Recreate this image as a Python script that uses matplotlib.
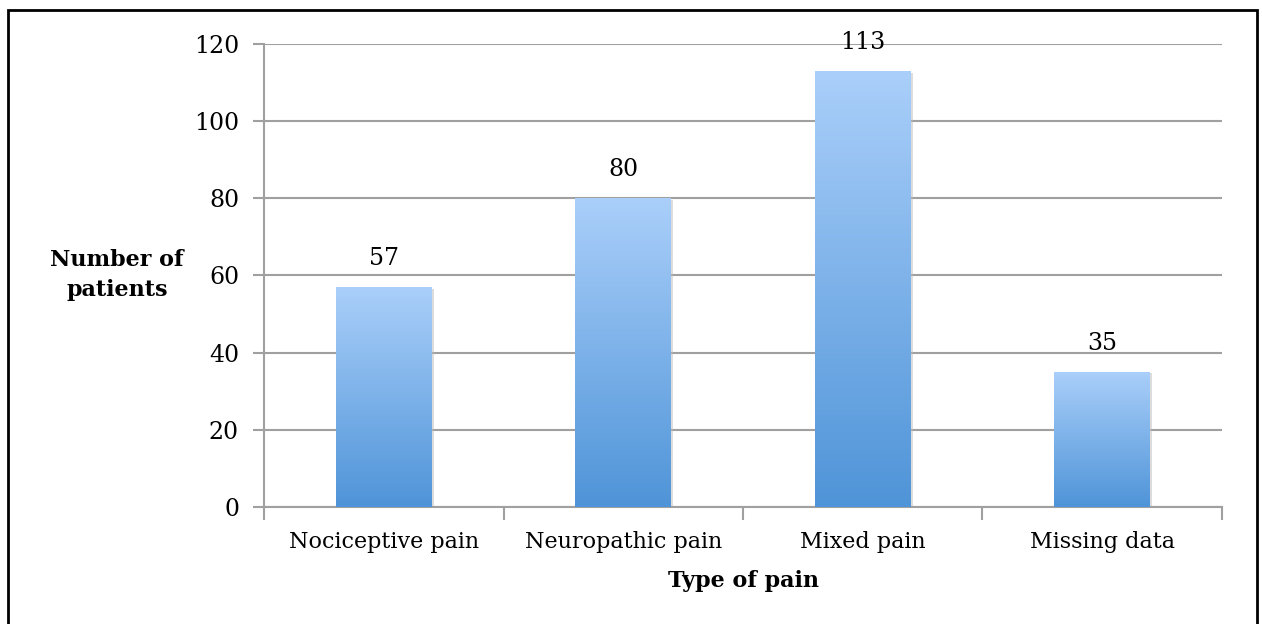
import numpy as np
import matplotlib.pyplot as plt
from matplotlib.patches import Rectangle
from matplotlib.colors import LinearSegmentedColormap

# данные
categories = ["Nociceptive pain", "Neuropathic pain", "Mixed pain", "Missing data"]
patients = [57, 80, 113, 35]
y_ticks = [0, 20, 40, 60, 80, 100, 120]

plt.rcParams['font.family'] = ['DejaVu Serif']

fig = plt.figure(figsize=(12.62, 6.24), dpi=100)
ax = fig.add_axes([0.2092, 0.1875, 0.7591, 0.742])

x = np.arange(len(categories))
bars = ax.bar(x, patients, width=0.4, color='none', zorder=3)

# градиент на столбиках
grad = np.linspace(0, 1, 256).reshape(-1, 1)
cmap = LinearSegmentedColormap.from_list('bl', ['#4F94D8', '#AACFFA'])
for b in bars:
    x0, y0 = b.get_x(), b.get_y()
    w, h = b.get_width(), b.get_height()
    # тень
    ax.add_patch(Rectangle((x0 + 0.008, y0), w, h - 0.4, facecolor='#bbbbbb', alpha=0.5,
                           edgecolor='none', zorder=2.5))
    im = ax.imshow(grad, cmap=cmap, extent=[x0, x0 + w, y0, y0 + h], origin='lower',
                   aspect='auto', zorder=3)
    im.set_clip_path(b)
    ax.text(x0 + w / 2, h + 4.5, str(int(h)), ha='center', va='bottom', fontsize=17, zorder=4)

ax.set_xlim(-0.5, len(categories) - 0.5)
ax.set_ylim(0, 120)
ax.set_yticks(y_ticks)
ax.tick_params(axis='y', labelsize=17, length=8, color='#a0a0a0', width=1.5, pad=10)
ax.set_xticks(x)
ax.set_xticklabels(categories)
ax.tick_params(axis='x', labelsize=16, length=0, pad=17)
# засечки между категориями
ax.set_xticks(np.arange(-0.5, len(categories)), minor=True)
ax.tick_params(axis='x', which='minor', length=9, color='#a0a0a0', width=1.5)

ax.grid(axis='y', color='#a0a0a0', linewidth=1.5, zorder=0)
ax.set_axisbelow(True)
ax.spines['top'].set_visible(False)
ax.spines['right'].set_visible(False)
ax.spines['left'].set_color('#a0a0a0')
ax.spines['left'].set_linewidth(1.5)
ax.spines['bottom'].set_color('#a0a0a0')
ax.spines['bottom'].set_linewidth(1.5)

fig.text(117 / 1262, 1 - 275 / 624, "Number of\npatients", ha='center', va='center',
         fontsize=16, fontweight='bold', linespacing=1.45)
fig.text(743 / 1262, 1 - 581 / 624, "Type of pain", ha='center', va='center',
         fontsize=16, fontweight='bold')

# рамка вокруг рисунка
fig.patches.append(Rectangle((8 / 1262, -0.05), 1249 / 1262, 1.05 - 10 / 624,
                             transform=fig.transFigure, fill=False, edgecolor='black',
                             linewidth=2, clip_on=False))

fig.savefig('out.png', dpi=100)
